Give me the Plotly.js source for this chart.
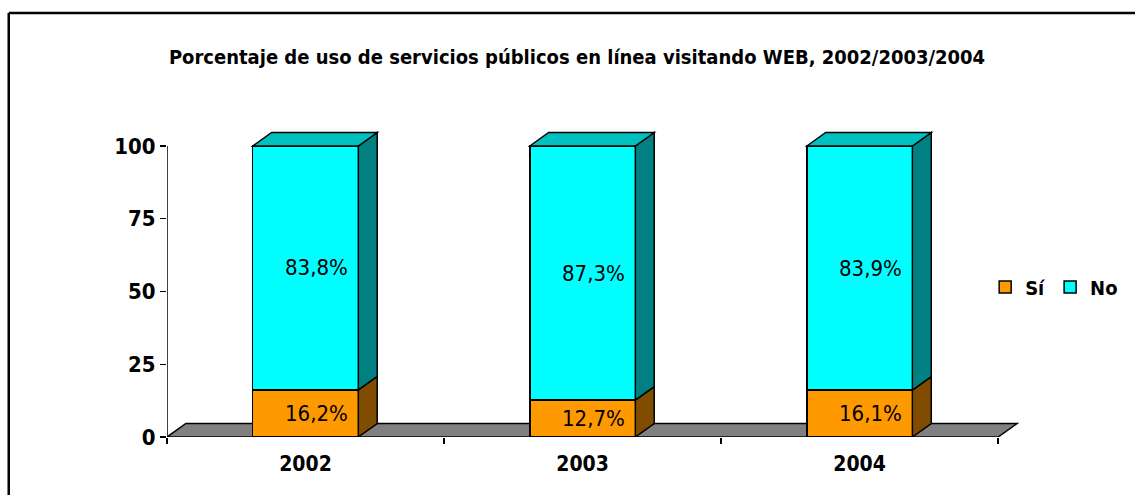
<!DOCTYPE html>
<html><head><meta charset="utf-8">
<script src="https://cdn.plot.ly/plotly-3.0.1.min.js"></script>
<style>html,body{margin:0;padding:0;background:#fff} svg text{font-stretch:condensed !important;}</style>
</head><body><div id="chart" style="width:1135px;height:495px"></div>
<script>
const years = ['2002', '2003', '2004'];
const si = [16.2, 12.7, 16.1];
const no = [83.8, 87.3, 83.9];
const seriesNames = ['Sí', 'No'];
const yTicks = [0, 25, 50, 75, 100];
const titleText = 'Porcentaje de uso de servicios públicos en línea visitando WEB, 2002/2003/2004';

const W = 1135, H = 495, M = {l: 167, r: 111, t: 131, b: 58};
const xRange = [-0.5, 2.579], yRange = [0, 105.15];
const plotW = W - M.l - M.r, plotH = H - M.t - M.b;
const pxX = plotW / (xRange[1] - xRange[0]), pxY = plotH / (yRange[1] - yRange[0]);
const DX = 19 / pxX, DY = 13.5 / pxY;
const BW = 0.381;
const FONT = '"DejaVu Sans Condensed","DejaVu Sans",sans-serif';
const fmt = v => v.toFixed(1).replace('.', ',') + '%';

const colors = {siFront: '#FF9900', siSide: '#7F4C00', noFront: '#00FFFF', noSide: '#008080', noTop: '#00C0C0'};
const xi = years.map((_, i) => i);

const traces = [
  {type: 'bar', name: seriesNames[0], x: xi, y: si, width: BW,
   marker: {color: colors.siFront, line: {color: '#000', width: 1.5}}, hoverinfo: 'skip'},
  {type: 'bar', name: seriesNames[1], x: xi, y: no, width: BW,
   marker: {color: colors.noFront, line: {color: '#000', width: 1.5}}, hoverinfo: 'skip'}
];

const shapes = [];
// floor
shapes.push({type: 'path', xref: 'x', yref: 'y', layer: 'below',
  path: `M${-0.5},0 L${-0.5 + DX},${DY} L${2.5 + DX},${DY} L${2.5},0 Z`,
  fillcolor: '#808080', line: {color: '#000', width: 1.5}});
// y axis line
shapes.push({type: 'line', xref: 'x', yref: 'y', x0: -0.5, x1: -0.5, y0: 0, y1: yTicks[yTicks.length - 1],
  line: {color: '#000', width: 1.5}});
const annotations = [];
xi.forEach(i => {
  const x0 = i - BW / 2, x1 = i + BW / 2;
  const segs = [
    {b: 0, t: si[i], side: colors.siSide, val: si[i]},
    {b: si[i], t: si[i] + no[i], side: colors.noSide, val: no[i]}
  ];
  segs.forEach(s => {
    shapes.push({type: 'path', xref: 'x', yref: 'y', layer: 'above',
      path: `M${x1},${s.b} L${x1 + DX},${s.b + DY} L${x1 + DX},${s.t + DY} L${x1},${s.t} Z`,
      fillcolor: s.side, line: {color: '#000', width: 1.5}});
    annotations.push({x: i, y: s.b + s.val / 2, xref: 'x', yref: 'y', text: fmt(s.val), showarrow: false,
      xshift: 11, font: {family: FONT, size: 22, color: '#000'}});
  });
  const t = si[i] + no[i];
  shapes.push({type: 'path', xref: 'x', yref: 'y', layer: 'above',
    path: `M${x0},${t} L${x0 + DX},${t + DY} L${x1 + DX},${t + DY} L${x1},${t} Z`,
    fillcolor: colors.noTop, line: {color: '#000', width: 1.5}});
});
// outer frame
shapes.push({type: 'line', xref: 'paper', yref: 'paper',
  x0: (8 - M.l) / plotW, x1: (8 - M.l) / plotW, y0: (H - M.b - 13) / plotH, y1: (H - M.b - 500) / plotH,
  line: {color: '#000', width: 2.5}});
shapes.push({type: 'line', xref: 'paper', yref: 'paper',
  x0: (8 - M.l) / plotW, x1: (1140 - M.l) / plotW, y0: (H - M.b - 13) / plotH, y1: (H - M.b - 13) / plotH,
  line: {color: '#000', width: 2.5}});

const layout = {
  width: W, height: H, margin: M, paper_bgcolor: '#fff', plot_bgcolor: 'rgba(0,0,0,0)',
  barmode: 'stack', bargap: 0,
  title: {text: titleText, x: 577 / W, xref: 'container', xanchor: 'center', y: 1 - 57 / H, yref: 'container', yanchor: 'middle',
    font: {family: FONT, size: 20, color: '#000', weight: 'bold'}},
  xaxis: {type: 'category', range: xRange, tickson: 'boundaries', ticks: 'outside', ticklen: 6, tickwidth: 1.5, tickcolor: '#000',
    tickvals: xi, ticktext: years, showline: false, showgrid: false, zeroline: false, fixedrange: true,
    ticklabelstandoff: 12,
    tickfont: {family: FONT, size: 21, color: '#000', weight: 'bold'}},
  yaxis: {range: yRange, tickvals: yTicks, ticks: 'outside', ticklen: 6, tickwidth: 1.5, tickcolor: '#000',
    showline: false, showgrid: false, zeroline: false, fixedrange: true,
    tickfont: {family: FONT, size: 22, color: '#000', weight: 'bold'}},
  legend: {orientation: 'h', x: (989 - M.l) / plotW, xanchor: 'left', y: (H - M.b - 287) / plotH, yanchor: 'middle',
    traceorder: 'normal', font: {family: FONT, size: 20, color: '#000', weight: 'bold'}, bgcolor: 'rgba(0,0,0,0)'},
  shapes: shapes, annotations: annotations, showlegend: true
};

Plotly.newPlot('chart', traces, layout, {displayModeBar: false, staticPlot: true});
</script>
</body></html>
